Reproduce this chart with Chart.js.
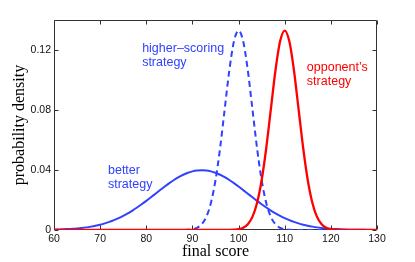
<!DOCTYPE html>
<html>
<head>
<meta charset="utf-8">
<script src="https://cdn.jsdelivr.net/npm/chart.js@4.4.1/dist/chart.umd.min.js"></script>
<style>
  html, body { margin: 0; padding: 0; background: #fff; }
  canvas { display: block; }
</style>
</head>
<body>
<canvas id="chart" width="415" height="262"></canvas>
<script>
// final score, one point per unit
const scores = [
  60, 61, 62, 63, 64, 65, 66, 67, 68, 69,
  70, 71, 72, 73, 74, 75, 76, 77, 78, 79,
  80, 81, 82, 83, 84, 85, 86, 87, 88, 89,
  90, 91, 92, 93, 94, 95, 96, 97, 98, 99,
  100, 101, 102, 103, 104, 105, 106, 107, 108, 109,
  110, 111, 112, 113, 114, 115, 116, 117, 118, 119,
  120, 121, 122, 123, 124, 125, 126, 127, 128, 129,
  130
];

// probability density
const betterStrategy = [
  0.00024, 0.00033, 0.00044, 0.00060, 0.00079, 0.00104, 0.00136, 0.00175, 0.00224, 0.00283,
  0.00355, 0.00440, 0.00540, 0.00656, 0.00790, 0.00941, 0.01109, 0.01295, 0.01497, 0.01714,
  0.01942, 0.02179, 0.02420, 0.02661, 0.02897, 0.03123, 0.03332, 0.03521, 0.03683, 0.03814,
  0.03910, 0.03970, 0.03989, 0.03970, 0.03910, 0.03814, 0.03683, 0.03521, 0.03332, 0.03123,
  0.02897, 0.02661, 0.02420, 0.02179, 0.01942, 0.01714, 0.01497, 0.01295, 0.01109, 0.00941,
  0.00790, 0.00656, 0.00540, 0.00440, 0.00355, 0.00283, 0.00224, 0.00175, 0.00136, 0.00104,
  0.00079, 0.00060, 0.00044, 0.00033, 0.00024, 0.00017, 0.00012, 0.00009, 0.00006, 0.00004,
  0.00003
];

const higherScoring = [
  0, 0, 0, 0, 0, 0, 0, 0, 0, 0,
  0, 0, 0, 0, 0, 0, 0, 0, 0, 0,
  0, 0, 0, 0, 0, 0, 0, 0.00001, 0.00004, 0.00016,
  0.00051, 0.00148, 0.00380, 0.00874, 0.01800, 0.03316, 0.05467, 0.08066, 0.10648, 0.12579,
  0.13298, 0.12579, 0.10648, 0.08066, 0.05467, 0.03316, 0.01800, 0.00874, 0.00380, 0.00148,
  0.00051, 0.00016, 0.00004, 0.00001, 0, 0, 0, 0, 0, 0,
  0, 0, 0, 0, 0, 0, 0, 0, 0, 0,
  0
];

const opponent = [
  0, 0, 0, 0, 0, 0, 0, 0, 0, 0,
  0, 0, 0, 0, 0, 0, 0, 0, 0, 0,
  0, 0, 0, 0, 0, 0, 0, 0, 0, 0,
  0, 0, 0, 0, 0, 0, 0, 0.00001, 0.00004, 0.00016,
  0.00051, 0.00148, 0.00380, 0.00874, 0.01800, 0.03316, 0.05467, 0.08066, 0.10648, 0.12579,
  0.13298, 0.12579, 0.10648, 0.08066, 0.05467, 0.03316, 0.01800, 0.00874, 0.00380, 0.00148,
  0.00051, 0.00016, 0.00004, 0.00001, 0, 0, 0, 0, 0, 0,
  0
];

const xTicks = [60, 70, 80, 90, 100, 110, 120, 130];
const yTicks = [0, 0.04, 0.08, 0.12];
const yTickLabels = ['0', '0.04', '0.08', '0.12'];

const BLUE = '#3041ff';
const RED = '#ff0000';

// text labels, anchored in data units (left edge, middle of first line)
const notes = [
  { lines: ['higher\u2013scoring', 'strategy'], x: 79.1, y: 0.1209, color: BLUE },
  { lines: ['opponent\u2019s', 'strategy'], x: 114.8, y: 0.1082, color: RED },
  { lines: ['better', 'strategy'], x: 71.7, y: 0.0394, color: BLUE },
];

const toPoints = (vals) => scores.map((x, i) => ({ x: x, y: vals[i] }));

// box round the plot with inward ticks, like matlab
const frame = {
  id: 'frame',
  beforeDatasetsDraw(chart) {
    const { ctx, chartArea: a, scales: { x, y } } = chart;
    const l = Math.round(a.left) + 0.5;
    const r = Math.round(a.right) - 0.5;
    const t = Math.round(a.top) + 0.5;
    const b = Math.round(a.bottom) - 0.5;
    ctx.save();
    ctx.strokeStyle = '#333';
    ctx.lineWidth = 1;
    ctx.beginPath();
    ctx.rect(l, t, r - l, b - t);
    x.ticks.forEach((tk) => {
      const px = Math.round(x.getPixelForValue(tk.value)) + 0.5;
      ctx.moveTo(px, b); ctx.lineTo(px, b - 4);
      ctx.moveTo(px, t); ctx.lineTo(px, t + 4);
    });
    y.ticks.forEach((tk) => {
      const py = Math.round(y.getPixelForValue(tk.value)) + 0.5;
      ctx.moveTo(l, py); ctx.lineTo(l + 4, py);
      ctx.moveTo(r, py); ctx.lineTo(r - 4, py);
    });
    ctx.stroke();
    ctx.restore();
  },
  afterDraw(chart) {
    const { ctx, scales: { x, y } } = chart;
    ctx.save();
    ctx.font = '12.5px "Liberation Sans", Arial, sans-serif';
    ctx.textAlign = 'left';
    ctx.textBaseline = 'middle';
    notes.forEach((n) => {
      ctx.fillStyle = n.color;
      const px = x.getPixelForValue(n.x);
      const py = y.getPixelForValue(n.y);
      n.lines.forEach((line, i) => ctx.fillText(line, px, py + i * 14));
    });
    ctx.restore();
  }
};

new Chart(document.getElementById('chart'), {
  type: 'line',
  data: {
    datasets: [
      {
        label: "opponent's strategy",
        data: toPoints(opponent),
        borderColor: RED,
        borderWidth: 2.3,
      },
      {
        label: 'higher-scoring strategy',
        data: toPoints(higherScoring),
        borderColor: BLUE,
        borderWidth: 2,
        borderDash: [6, 4],
      },
      {
        label: 'better strategy',
        data: toPoints(betterStrategy),
        borderColor: BLUE,
        borderWidth: 2,
      },
    ],
  },
  options: {
    responsive: false,
    animation: false,
    devicePixelRatio: 1,
    layout: { padding: { left: 0, top: 20, right: 38, bottom: 0 } },
    elements: {
      point: { radius: 0 },
      line: { fill: false, cubicInterpolationMode: 'monotone' },
    },
    plugins: {
      legend: { display: false },
      tooltip: { enabled: false },
    },
    scales: {
      x: {
        type: 'linear',
        min: 60,
        max: 130,
        grid: { display: false, drawTicks: false },
        border: { display: false },
        afterBuildTicks: (scale) => { scale.ticks = xTicks.map((v) => ({ value: v })); },
        afterFit: (scale) => { scale.height = 32; },
        ticks: {
          padding: 3,
          color: '#111',
          font: { family: '"Liberation Sans", Arial, sans-serif', size: 10.5 },
          callback: (v) => String(v),
        },
        title: {
          display: true,
          text: 'final score',
          color: '#000',
          font: { family: '"Liberation Serif", "Times New Roman", serif', size: 16, lineHeight: 1 },
          padding: { top: 0, bottom: 2 },
        },
      },
      y: {
        type: 'linear',
        min: 0,
        max: 0.14,
        grid: { display: false, drawTicks: false },
        border: { display: false },
        afterBuildTicks: (scale) => { scale.ticks = yTicks.map((v) => ({ value: v })); },
        afterFit: (scale) => { scale.width = 54; },
        ticks: {
          padding: 3,
          color: '#111',
          font: { family: '"Liberation Sans", Arial, sans-serif', size: 10.5 },
          callback: (v) => yTickLabels[yTicks.indexOf(v)],
        },
        title: {
          display: true,
          text: 'probability density',
          color: '#000',
          font: { family: '"Liberation Serif", "Times New Roman", serif', size: 16, lineHeight: 1 },
          padding: { top: 12, bottom: 0 },
        },
      },
    },
  },
  plugins: [frame],
});
</script>
</body>
</html>
